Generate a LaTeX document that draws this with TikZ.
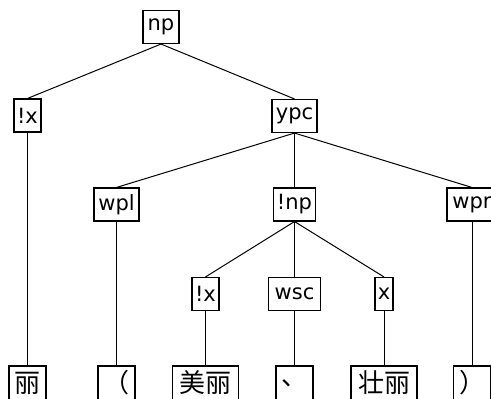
\documentclass[tikz,border=0pt]{standalone}
\usepackage{fontspec}
\setmainfont{DejaVu Sans}
\newfontfamily\cjk{Noto Sans CJK SC}
\usetikzlibrary{positioning}
\tikzset{
  tag_box/.style={draw=black,line width=1.1pt,fill=white,inner xsep=2pt,inner ysep=0pt,
    minimum height=33pt,font=\fontsize{21}{21}\selectfont},
  leaf_box/.style={draw=black,line width=1.1pt,fill=white,inner xsep=2pt,inner ysep=0pt,
    minimum height=34pt,minimum width=37pt,font=\cjk\fontsize{26}{26}\selectfont},
  link/.style={draw=black,line width=1pt},
}
\begin{document}
\begin{tikzpicture}[x=1pt,y=-1pt]
  \useasboundingbox (0,0) rectangle (491,399);
  \clip (0,0) rectangle (491,399);
  \fill[white] (0,0) rectangle (491,399);

  % upper tags
  \node[tag_box,minimum width=36pt] (np) at (161,27) {np};
  \node[tag_box,minimum width=27pt] (lx) at (27.5,115.5) {!x};
  \node[tag_box,minimum width=45pt] (ypc) at (294.5,116) {ypc};

  \node[tag_box,minimum width=45pt] (wpl) at (116.5,204.5) {wpl};
  \node[tag_box,minimum width=42pt] (lnp) at (294.5,204.5) {!np};
  \node[tag_box,minimum width=50pt] (wpr) at (472,204.5) {wpr};

  \node[tag_box,minimum width=27pt] (lx2) at (205.5,294) {!x};
  \node[tag_box,minimum width=52pt] (wsc) at (294.5,294) {wsc};
  \node[tag_box,minimum width=18pt] (x) at (384,294) {x};

  % words
  \node[leaf_box] (li) at (27.5,383) {丽};
  \node[leaf_box] (lpar) at (116.5,383) {（};
  \node[leaf_box,minimum width=66pt] (meili) at (205.5,383) {美丽};
  \node[leaf_box] (dun) at (294.5,383) {、};
  \node[leaf_box,minimum width=66pt] (zhuangli) at (384,383) {壮丽};
  \node[leaf_box] (rpar) at (472,383) {）};

  \draw[link] (np.south) -- (lx.north);
  \draw[link] (np.south) -- (ypc.north);
  \draw[link] (lx.south) -- (li.north);
  \draw[link] (ypc.south) -- (wpl.north);
  \draw[link] (ypc.south) -- (lnp.north);
  \draw[link] (ypc.south) -- (wpr.north);
  \draw[link] (wpl.south) -- (lpar.north);
  \draw[link] (wpr.south) -- (rpar.north);
  \draw[link] (lnp.south) -- (lx2.north);
  \draw[link] (lnp.south) -- (wsc.north);
  \draw[link] (lnp.south) -- (x.north);
  \draw[link] (lx2.south) -- (meili.north);
  \draw[link] (wsc.south) -- (dun.north);
  \draw[link] (x.south) -- (zhuangli.north);
\end{tikzpicture}
\end{document}
